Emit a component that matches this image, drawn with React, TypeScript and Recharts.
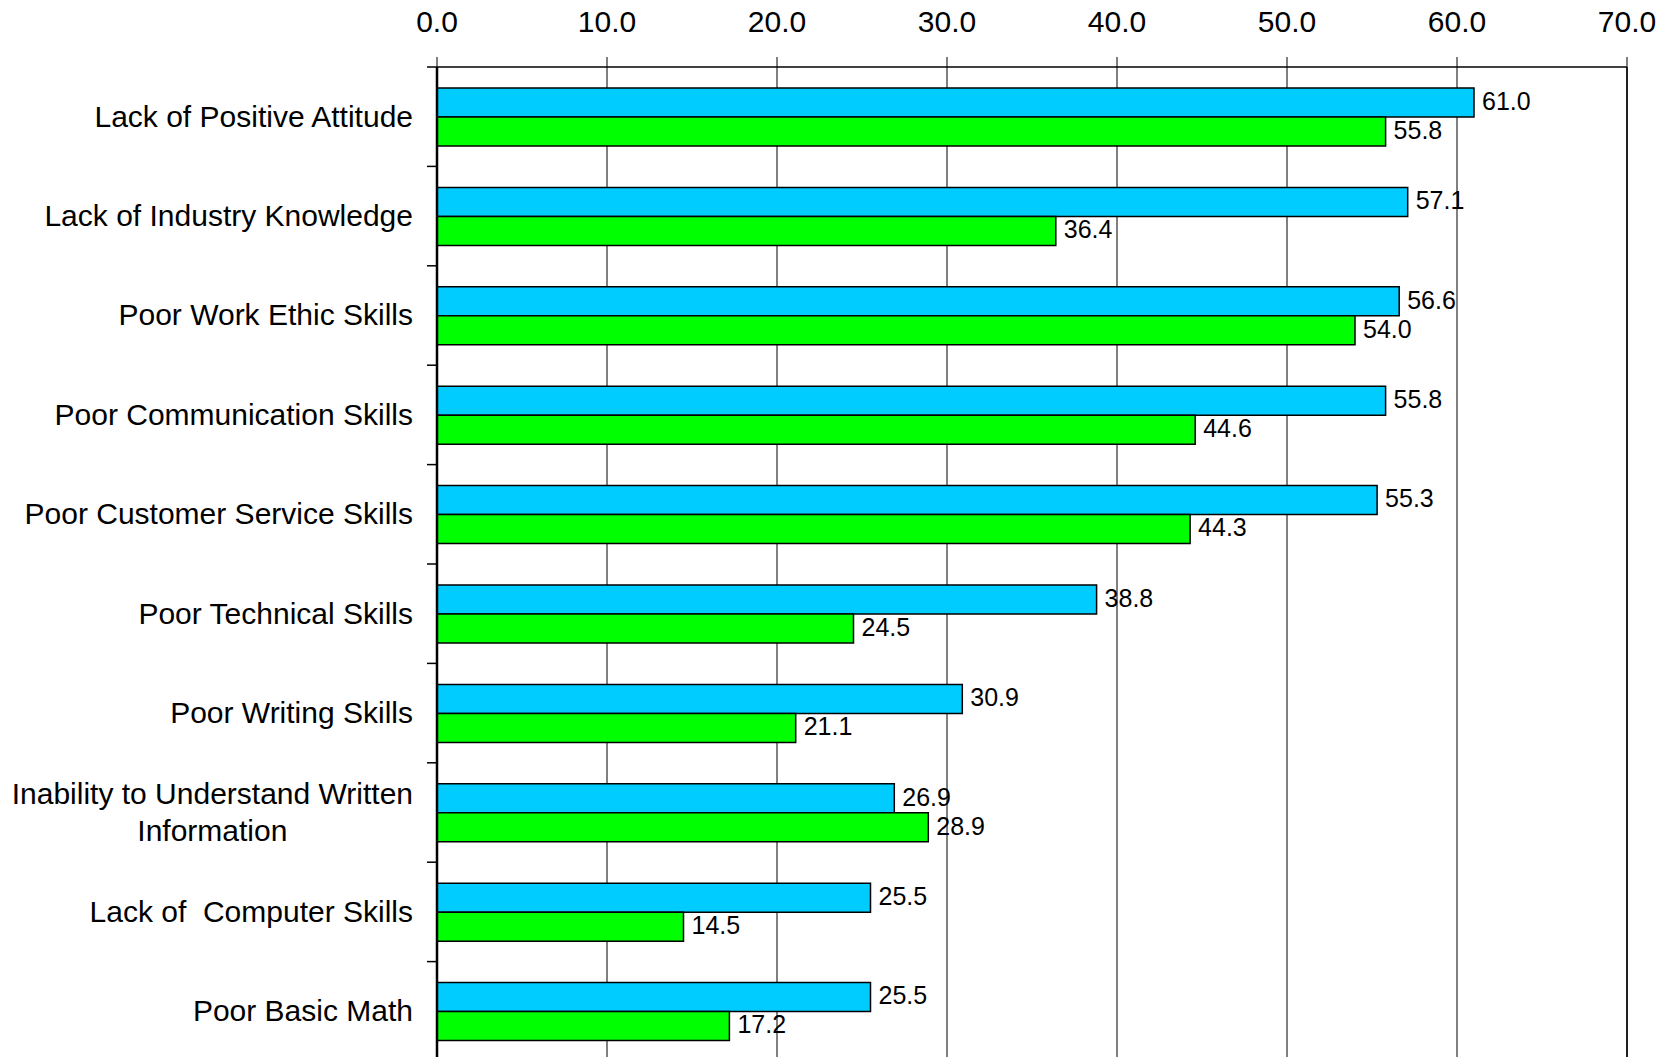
import React from 'react';
import { BarChart, Bar, XAxis, YAxis, CartesianGrid, LabelList, ReferenceLine } from 'recharts';

const categories = [
  'Lack of Positive Attitude',
  'Lack of Industry Knowledge',
  'Poor Work Ethic Skills',
  'Poor Communication Skills',
  'Poor Customer Service Skills',
  'Poor Technical Skills',
  'Poor Writing Skills',
  'Inability to Understand Written\nInformation',
  'Lack of  Computer Skills',
  'Poor Basic Math',
];
const seriesBlue = [61.0, 57.1, 56.6, 55.8, 55.3, 38.8, 30.9, 26.9, 25.5, 25.5];
const seriesGreen = [55.8, 36.4, 54.0, 44.6, 44.3, 24.5, 21.1, 28.9, 14.5, 17.2];
const xTicks = [0, 10, 20, 30, 40, 50, 60, 70];

const data = categories.map((c, i) => ({ category: c, blue: seriesBlue[i], green: seriesGreen[i] }));

const FONT = '"Liberation Sans", Arial, sans-serif';
let ctx: CanvasRenderingContext2D | null = null;
function measure(t: string, size: number): number {
  if (!ctx) ctx = document.createElement('canvas').getContext('2d');
  if (!ctx) return t.length * size * 0.5;
  ctx.font = `${size}px "Liberation Sans", Arial, sans-serif`;
  return ctx.measureText(t).width;
}

const CategoryTick = (props: any) => {
  const { x, y, payload } = props;
  const axisX = x + 24;
  const half = payload && typeof payload.offset === 'number' ? payload.offset : 0;
  const lines = String(payload.value).split('\n');
  const fs = 30;
  const lh = 37;
  let content;
  if (lines.length === 1) {
    content = (
      <text x={x} y={y} dy="0.33em" textAnchor="end" fill="#000" fontSize={fs} fontFamily={FONT} style={{ whiteSpace: 'pre' }}>
        {lines[0]}
      </text>
    );
  } else {
    const w = Math.max(...lines.map((l) => measure(l, fs)));
    const cx = x - w / 2;
    content = (
      <text textAnchor="middle" fill="#000" fontSize={fs} fontFamily={FONT} style={{ whiteSpace: 'pre' }}>
        {lines.map((l, i) => (
          <tspan key={i} x={cx} y={y + (i - (lines.length - 1) / 2) * lh} dy="0.33em">
            {l}
          </tspan>
        ))}
      </text>
    );
  }
  return (
    <g>
      {content}
      <line x1={axisX - 10} x2={axisX} y1={y - half} y2={y - half} stroke="#000" strokeWidth={1.5} />
    </g>
  );
};

const fmt = (v: any) => Number(v).toFixed(1);

export default function App() {
  return (
    <div style={{ position: 'absolute', left: 0, top: 0, width: 1673, height: 1057, overflow: 'hidden', background: '#fff' }}>
      <BarChart
        layout="vertical"
        width={1673}
        height={1061}
        data={data}
        margin={{ top: 0, right: 46, bottom: 0, left: 0 }}
        barCategoryGap={21}
        barGap={0}
      >
        <CartesianGrid horizontal={false} stroke="#000" strokeWidth={1} />
        <XAxis
          type="number"
          orientation="top"
          domain={[0, 70]}
          ticks={xTicks}
          interval={0}
          allowDataOverflow
          tickFormatter={fmt}
          height={67}
          tickSize={10}
          tickMargin={25}
          axisLine={{ stroke: '#000', strokeWidth: 1.5 }}
          tickLine={{ stroke: '#000', strokeWidth: 1 }}
          tick={{ fill: '#000', fontSize: 30, fontFamily: FONT }}
        />
        <YAxis
          type="category"
          dataKey="category"
          width={437}
          tickSize={0}
          tickMargin={24}
          tickLine={false}
          interval={0}
          axisLine={{ stroke: '#000', strokeWidth: 2.5 }}
          tick={<CategoryTick />}
        />
        <ReferenceLine x={70} stroke="#000" strokeWidth={1.5} />
        <Bar dataKey="blue" fill="#00CCFF" stroke="#000" strokeWidth={1.5} isAnimationActive={false}>
          <LabelList dataKey="blue" position="right" offset={8} dy={-1.5} formatter={fmt} fill="#000" fontSize={25} fontFamily={FONT} />
        </Bar>
        <Bar dataKey="green" fill="#00FF00" stroke="#000" strokeWidth={1.5} isAnimationActive={false}>
          <LabelList dataKey="green" position="right" offset={8} dy={-1.5} formatter={fmt} fill="#000" fontSize={25} fontFamily={FONT} />
        </Bar>
      </BarChart>
    </div>
  );
}
